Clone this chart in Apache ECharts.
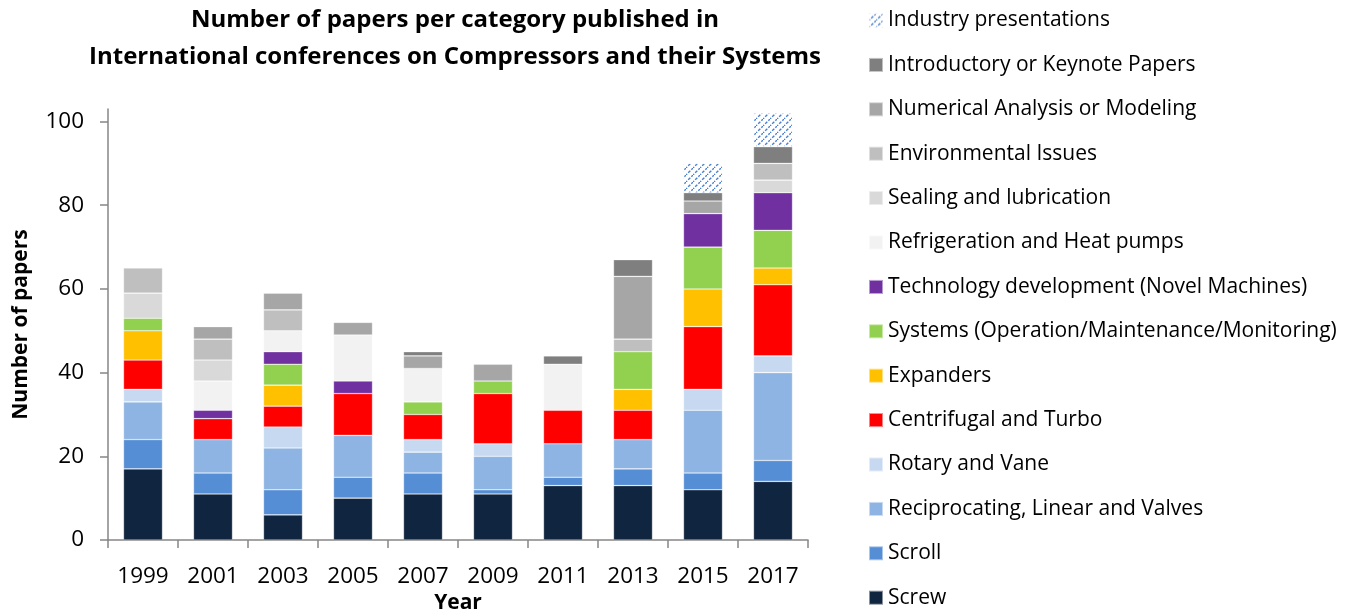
<!DOCTYPE html>
<html>
<head>
<meta charset="utf-8">
<script src="https://cdn.jsdelivr.net/npm/echarts@6/dist/echarts.min.js"></script>
<style>
  html, body { margin: 0; padding: 0; background: #fff; }
  #chart { width: 1357px; height: 612px; }
</style>
</head>
<body>
<div id="chart"></div>
<script>
// Data (bottom of stack first)
const years = ['1999', '2001', '2003', '2005', '2007', '2009', '2011', '2013', '2015', '2017'];
const screw = [17, 11, 6, 10, 11, 11, 13, 13, 12, 14];
const scroll = [7, 5, 6, 5, 5, 1, 2, 4, 4, 5];
const reciprocating = [9, 8, 10, 10, 5, 8, 8, 7, 15, 21];
const rotary = [3, 0, 5, 0, 3, 3, 0, 0, 5, 4];
const centrifugal = [7, 5, 5, 10, 6, 12, 8, 7, 15, 17];
const expanders = [7, 0, 5, 0, 0, 0, 0, 5, 9, 4];
const systems = [3, 0, 5, 0, 3, 3, 0, 9, 10, 9];
const technology = [0, 2, 3, 3, 0, 0, 0, 0, 8, 9];
const refrigeration = [0, 7, 5, 11, 8, 0, 11, 0, 0, 0];
const sealing = [6, 5, 0, 0, 0, 0, 0, 0, 0, 3];
const environmental = [6, 5, 5, 0, 0, 0, 0, 3, 0, 4];
const numerical = [0, 3, 4, 3, 3, 4, 0, 15, 3, 0];
const keynote = [0, 0, 0, 0, 1, 0, 2, 4, 2, 4];
const industry = [0, 0, 0, 0, 0, 0, 0, 0, 7, 8];
const yTicks = [0, 20, 40, 60, 80, 100];

const FONT = '"Open Sans", "Liberation Sans", sans-serif';

// hatch pattern for industry presentations
function makeHatch() {
    const c = document.createElement('canvas');
    c.width = 7; c.height = 7;
    const ctx = c.getContext('2d');
    ctx.fillStyle = '#fff';
    ctx.fillRect(0, 0, 7, 7);
    ctx.strokeStyle = '#4a7fd0';
    ctx.lineWidth = 1.4;
    ctx.setLineDash([3, 1.5]);
    ctx.beginPath();
    ctx.moveTo(-1, 8); ctx.lineTo(8, -1);
    ctx.stroke();
    return { image: c, repeat: 'repeat' };
}

const seriesDefs = [
    { name: 'Screw', data: screw, color: '#10253f' },
    { name: 'Scroll', data: scroll, color: '#558ed5' },
    { name: 'Reciprocating, Linear and Valves', data: reciprocating, color: '#8eb4e3' },
    { name: 'Rotary and Vane', data: rotary, color: '#c6d9f1' },
    { name: 'Centrifugal and Turbo', data: centrifugal, color: '#ff0000' },
    { name: 'Expanders', data: expanders, color: '#ffc000' },
    { name: 'Systems (Operation/Maintenance/Monitoring)', data: systems, color: '#92d050' },
    { name: 'Technology development (Novel Machines)', data: technology, color: '#7030a0' },
    { name: 'Refrigeration and Heat pumps', data: refrigeration, color: '#f2f2f2' },
    { name: 'Sealing and lubrication', data: sealing, color: '#d9d9d9' },
    { name: 'Environmental Issues', data: environmental, color: '#bfbfbf' },
    { name: 'Numerical Analysis or Modeling', data: numerical, color: '#a6a6a6' },
    { name: 'Introductory or Keynote Papers', data: keynote, color: '#7f7f7f' },
    { name: 'Industry presentations', data: industry, color: makeHatch() }
];

const chart = echarts.init(document.getElementById('chart'));

const option = {
    animation: false,
    graphic: [{
        type: 'text',
        x: 455, y: 39,
        style: {
            text: 'Number of papers per category published in\nInternational conferences on Compressors and their Systems',
            textAlign: 'center',
            textVerticalAlign: 'middle',
            font: 'bold 24px ' + FONT,
            lineHeight: 37,
            fill: '#000'
        }
    }],
    legend: {
        orient: 'vertical',
        left: 868,
        top: 10,
        bottom: 0,
        padding: 0,
        itemWidth: 14,
        itemHeight: 14,
        itemGap: 23.4,
        icon: 'rect',
        data: seriesDefs.map(s => s.name).reverse(),
        textStyle: { fontFamily: FONT, fontSize: 21, color: '#000' }
    },
    grid: { left: 108, right: 549, top: 109, bottom: 72, outerBoundsMode: 'none' },
    xAxis: {
        type: 'category',
        data: years,
        name: 'Year',
        nameLocation: 'middle',
        nameGap: 51,
        nameTextStyle: { fontFamily: FONT, fontSize: 21, fontWeight: 'bold', color: '#000' },
        axisLine: { lineStyle: { color: '#868686', width: 1.5 } },
        axisTick: { show: true, length: 8, lineStyle: { color: '#868686', width: 1.5 } },
        axisLabel: { fontFamily: FONT, fontSize: 22.5, color: '#000', margin: 25 }
    },
    yAxis: {
        type: 'value',
        min: 0,
        max: 103,
        interval: 20,
        name: 'Number of papers',
        nameLocation: 'middle',
        nameGap: 76,
        nameTextStyle: { fontFamily: FONT, fontSize: 21, fontWeight: 'bold', color: '#000' },
        splitLine: { show: false },
        axisLine: { show: true, lineStyle: { color: '#868686', width: 1.5 } },
        axisTick: { show: true, length: 8, customValues: yTicks, lineStyle: { color: '#868686', width: 1.5 } },
        axisLabel: { fontFamily: FONT, fontSize: 22.5, color: '#000', margin: 24, customValues: yTicks }
    },
    series: seriesDefs.map(s => ({
        name: s.name,
        type: 'bar',
        stack: 'total',
        barWidth: 39,
        data: s.data.map(v => (v === 0 ? '-' : v)),
        itemStyle: { color: s.color, borderColor: 'rgba(255,255,255,0.5)', borderWidth: 0.6 }
    }))
};

chart.setOption(option);
</script>
</body>
</html>
